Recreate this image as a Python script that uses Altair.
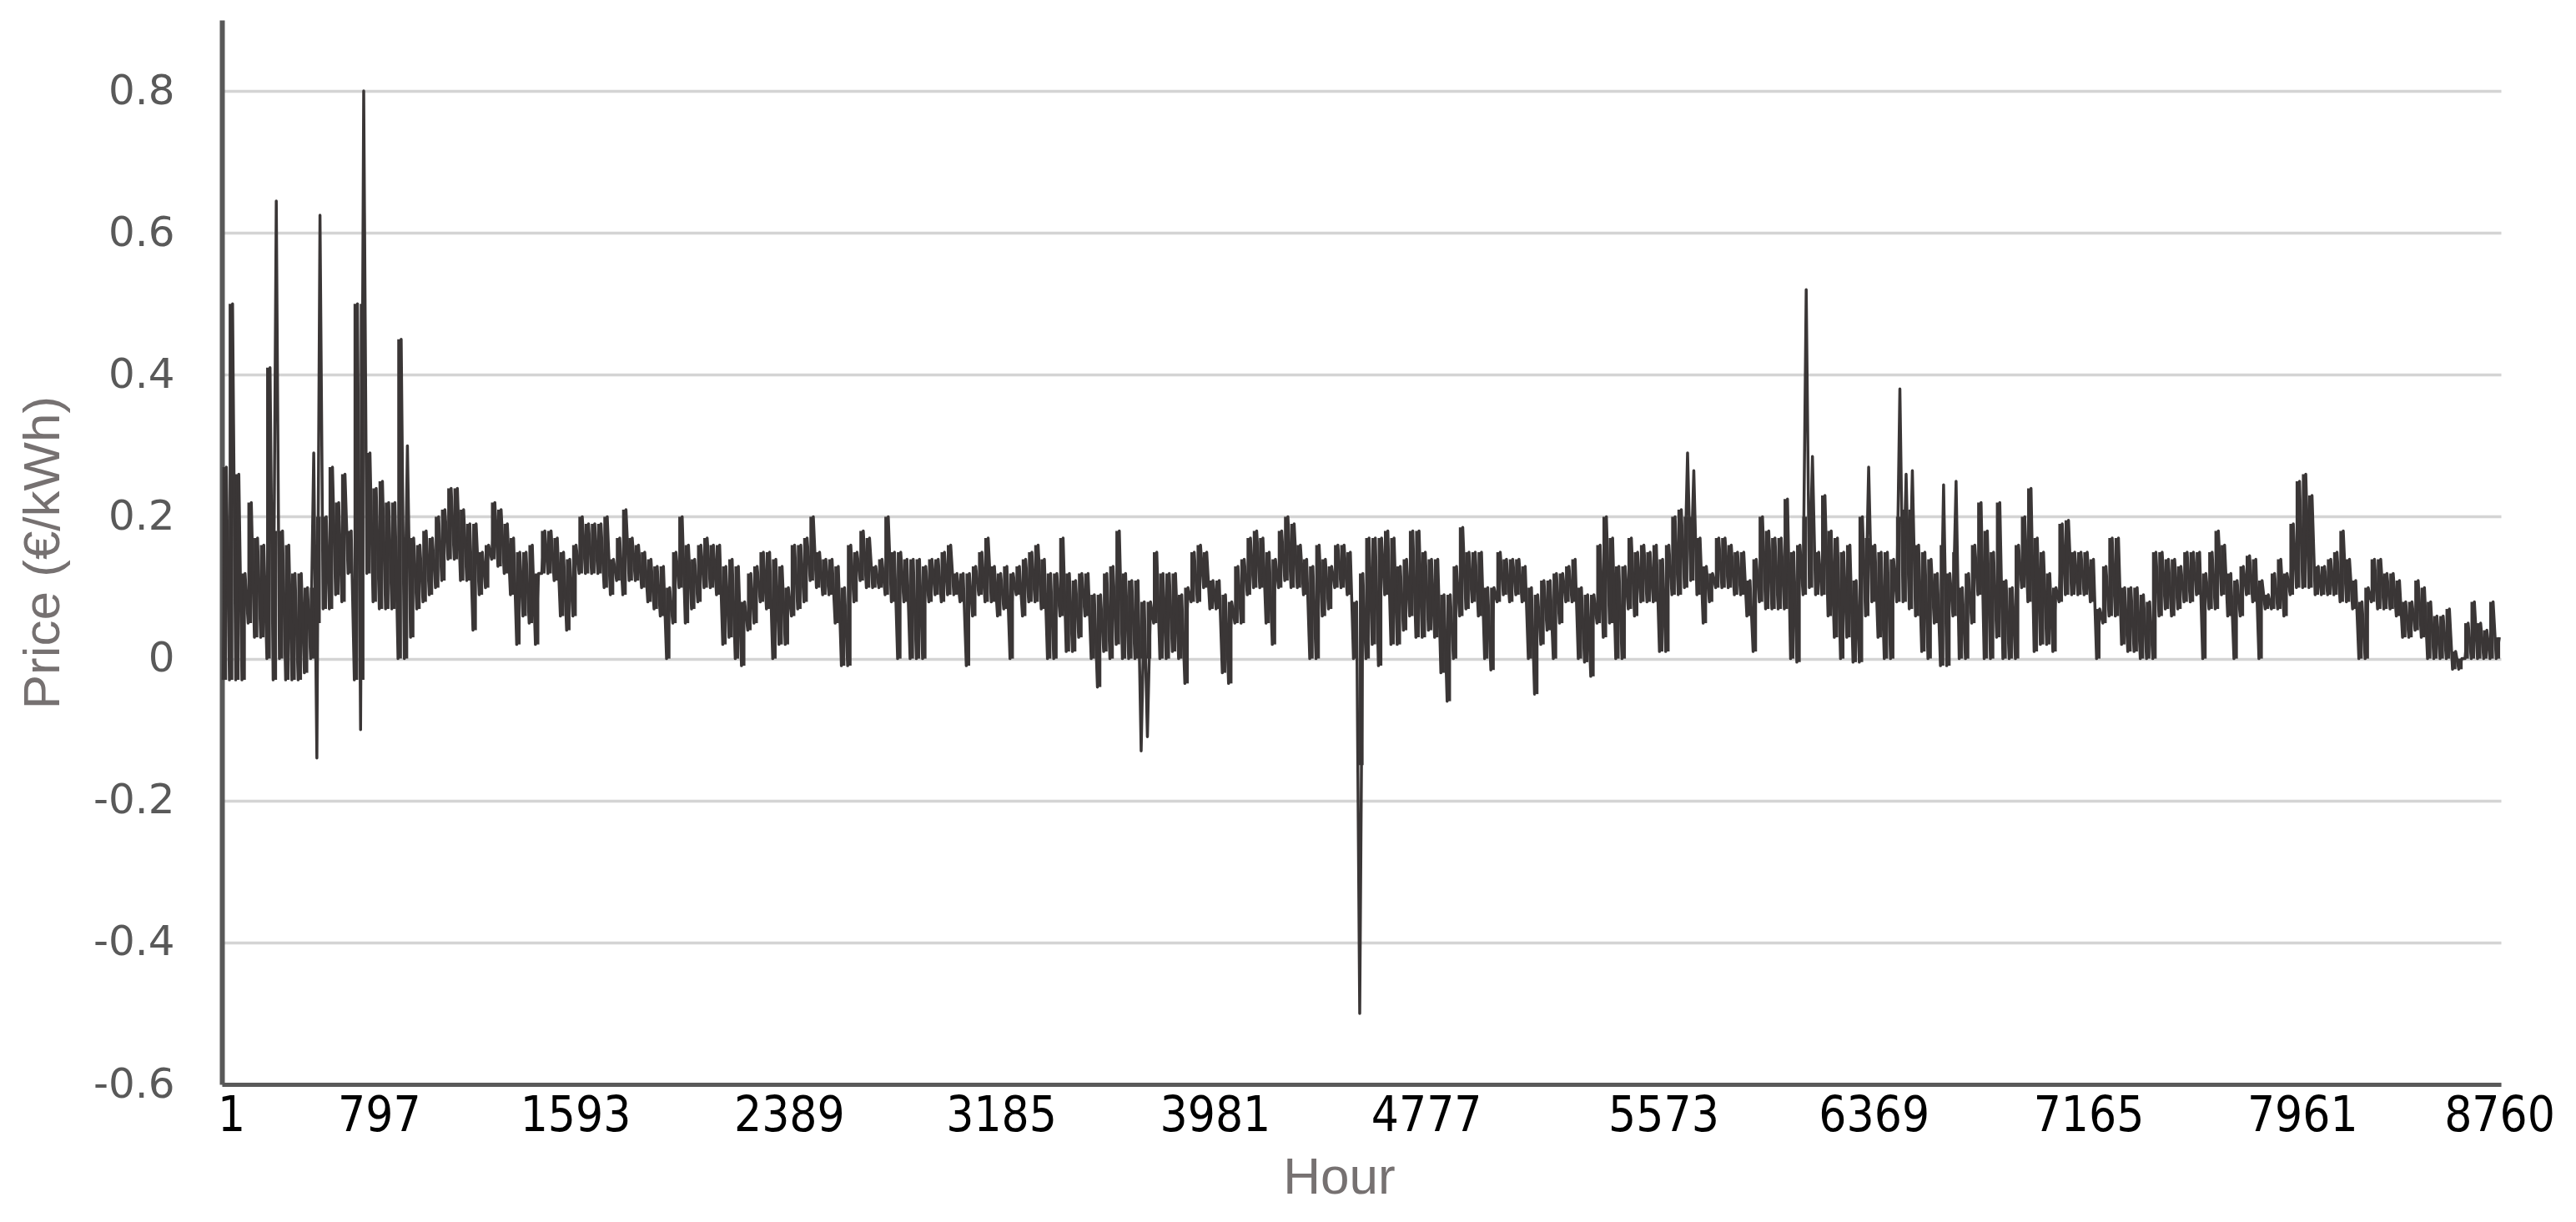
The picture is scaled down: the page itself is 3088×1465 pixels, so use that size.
import altair as alt
import pandas as pd

# Daily high / low of the hourly price (EUR/kWh), day 0..364
day_high = [
    0.27, 0.50, 0.26, 0.12, 0.22, 0.17, 0.16, 0.41, 0.645, 0.18,
    0.16, 0.12, 0.12, 0.10, 0.29, 0.625, 0.20, 0.27, 0.22, 0.26,
    0.18, 0.50, 0.80, 0.29, 0.24, 0.25, 0.22, 0.22, 0.45, 0.30,
    0.17, 0.16, 0.18, 0.17, 0.20, 0.21, 0.24, 0.24, 0.21, 0.19,
    0.19, 0.15, 0.16, 0.22, 0.21, 0.19, 0.17,
    0.15, 0.15, 0.16, 0.12, 0.18, 0.18, 0.17, 0.15, 0.14, 0.16,
    0.20, 0.19, 0.19, 0.19, 0.20, 0.14, 0.17, 0.21, 0.17, 0.16,
    0.15, 0.14, 0.13, 0.13, 0.10, 0.15, 0.20, 0.16, 0.14, 0.16,
    0.17, 0.16, 0.16, 0.13, 0.14, 0.13, 0.08, 0.12, 0.13, 0.15,
    0.15, 0.14, 0.13, 0.10, 0.16, 0.16,
    0.17, 0.20, 0.15, 0.14, 0.14, 0.13, 0.10, 0.16, 0.15, 0.18,
    0.17, 0.13, 0.14, 0.20, 0.15, 0.15, 0.14, 0.14, 0.14, 0.13,
    0.14, 0.14, 0.15, 0.16, 0.12, 0.12, 0.12, 0.13, 0.15, 0.17,
    0.13, 0.12, 0.13, 0.12, 0.13, 0.14, 0.15, 0.16, 0.14, 0.12,
    0.12, 0.17, 0.12, 0.11, 0.12, 0.12,
    0.09, 0.09, 0.12, 0.13, 0.18, 0.12, 0.11, 0.11, 0.08, 0.08,
    0.15, 0.12, 0.12, 0.12, 0.09, 0.10, 0.15, 0.16, 0.15, 0.11,
    0.11, 0.09, 0.08, 0.13, 0.14, 0.17, 0.18, 0.17, 0.15, 0.14,
    0.18, 0.20, 0.19, 0.16, 0.14, 0.13, 0.16, 0.14, 0.13, 0.16,
    0.16, 0.15, 0.08, 0.12, 0.17, 0.17,
    0.17, 0.18, 0.17, 0.13, 0.14, 0.18, 0.18, 0.15, 0.14, 0.14,
    0.09, 0.09, 0.13, 0.185, 0.15, 0.15, 0.15, 0.10, 0.10, 0.15,
    0.14, 0.14, 0.14, 0.13, 0.10, 0.09, 0.11, 0.11, 0.12, 0.12,
    0.13, 0.14, 0.10, 0.09, 0.09, 0.16, 0.20, 0.17, 0.13, 0.13,
    0.17, 0.15, 0.16, 0.15, 0.16, 0.14,
    0.16, 0.20, 0.21, 0.29, 0.265, 0.17, 0.13, 0.12, 0.17, 0.17,
    0.16, 0.15, 0.15, 0.11, 0.14, 0.20, 0.18, 0.17, 0.17, 0.225,
    0.15, 0.16, 0.52, 0.285, 0.15, 0.23, 0.18, 0.17, 0.15, 0.16,
    0.11, 0.20, 0.27, 0.16, 0.15, 0.15, 0.14, 0.38, 0.26, 0.265,
    0.16, 0.15, 0.14, 0.12, 0.245, 0.12,
    0.25, 0.10, 0.12, 0.16, 0.22, 0.18, 0.15, 0.22, 0.11, 0.10,
    0.16, 0.20, 0.24, 0.17, 0.15, 0.12, 0.10, 0.19, 0.195, 0.15,
    0.15, 0.15, 0.14, 0.07, 0.13, 0.17, 0.17, 0.10, 0.10, 0.10,
    0.09, 0.08, 0.15, 0.15, 0.14, 0.14, 0.13, 0.15, 0.15, 0.15,
    0.12, 0.15, 0.18, 0.16, 0.12, 0.11,
    0.13, 0.145, 0.14, 0.11, 0.09, 0.12, 0.14, 0.12, 0.19, 0.25,
    0.26, 0.23, 0.13, 0.13, 0.14, 0.15, 0.18, 0.14, 0.11, 0.08,
    0.10, 0.14, 0.14, 0.12, 0.12, 0.11, 0.08, 0.08, 0.11, 0.10,
    0.08, 0.06, 0.06, 0.07, 0.01, 0.00, 0.05, 0.08, 0.05, 0.04,
    0.08, 0.03,
]

day_low = [
    -0.03, -0.03, -0.03, -0.03, 0.05, 0.03, 0.03, 0.00, -0.03, 0.00,
    -0.03, -0.03, -0.03, -0.02, 0.00, -0.14, 0.07, 0.07, 0.09, 0.08,
    0.12, -0.03, -0.10, 0.12, 0.08, 0.07, 0.07, 0.07, 0.00, 0.00,
    0.03, 0.07, 0.08, 0.09, 0.10, 0.11, 0.14, 0.14, 0.11, 0.11,
    0.04, 0.09, 0.10, 0.14, 0.13, 0.12, 0.09,
    0.02, 0.06, 0.05, 0.02, 0.12, 0.12, 0.11, 0.06, 0.04, 0.06,
    0.12, 0.12, 0.12, 0.12, 0.10, 0.09, 0.11, 0.09, 0.11, 0.11,
    0.10, 0.08, 0.07, 0.06, 0.00, 0.05, 0.10, 0.05, 0.07, 0.08,
    0.10, 0.10, 0.09, 0.02, 0.03, 0.00, -0.01, 0.04, 0.05, 0.08,
    0.07, 0.00, 0.02, 0.02, 0.06, 0.07,
    0.08, 0.11, 0.10, 0.09, 0.09, 0.05, -0.01, -0.01, 0.08, 0.11,
    0.10, 0.10, 0.10, 0.09, 0.08, 0.00, 0.08, 0.00, 0.00, 0.00,
    0.08, 0.09, 0.08, 0.09, 0.09, 0.08, -0.01, 0.06, 0.09, 0.08,
    0.08, 0.06, 0.07, 0.00, 0.09, 0.06, 0.08, 0.08, 0.07, 0.00,
    0.00, 0.06, 0.01, 0.01, 0.03, 0.06,
    0.00, -0.04, 0.01, 0.00, 0.02, 0.00, 0.00, 0.00, -0.13, -0.11,
    0.05, 0.00, 0.00, 0.01, 0.00, -0.035, 0.08, 0.08, 0.10, 0.07,
    0.07, -0.02, -0.035, 0.05, 0.05, 0.09, 0.10, 0.10, 0.05, 0.02,
    0.10, 0.11, 0.10, 0.10, 0.09, 0.00, 0.00, 0.06, 0.07, 0.10,
    0.10, 0.09, 0.00, -0.50, 0.00, 0.02,
    -0.01, 0.09, 0.02, 0.02, 0.04, 0.06, 0.03, 0.03, 0.04, 0.03,
    -0.02, -0.06, 0.00, 0.06, 0.07, 0.08, 0.06, 0.00, -0.016, 0.08,
    0.09, 0.08, 0.09, 0.08, 0.00, -0.05, 0.02, 0.04, 0.00, 0.05,
    0.08, 0.08, 0.00, -0.005, -0.025, 0.05, 0.03, 0.05, 0.00, 0.00,
    0.07, 0.06, 0.08, 0.08, 0.08, 0.01,
    0.01, 0.09, 0.09, 0.10, 0.11, 0.09, 0.05, 0.08, 0.10, 0.10,
    0.10, 0.09, 0.09, 0.06, 0.01, 0.08, 0.07, 0.07, 0.07, 0.07,
    0.00, -0.005, 0.09, 0.10, 0.09, 0.09, 0.06, 0.03, 0.00, 0.03,
    -0.005, -0.005, 0.06, 0.08, 0.03, 0.00, 0.00, 0.08, 0.08, 0.07,
    0.06, 0.01, 0.00, 0.05, -0.01, -0.01,
    0.06, 0.00, 0.00, 0.05, 0.09, 0.00, 0.00, 0.03, 0.00, 0.00,
    0.00, 0.10, 0.08, 0.01, 0.02, 0.02, 0.01, 0.08, 0.09, 0.09,
    0.09, 0.09, 0.08, 0.00, 0.05, 0.06, 0.06, 0.02, 0.01, 0.01,
    0.00, 0.00, 0.00, 0.06, 0.07, 0.06, 0.07, 0.08, 0.08, 0.09,
    0.00, 0.07, 0.07, 0.09, 0.06, 0.00,
    0.06, 0.09, 0.08, 0.00, 0.07, 0.07, 0.07, 0.06, 0.09, 0.10,
    0.10, 0.10, 0.09, 0.09, 0.09, 0.09, 0.08, 0.08, 0.07, 0.00,
    0.00, 0.08, 0.07, 0.07, 0.07, 0.06, 0.03, 0.03, 0.04, 0.03,
    0.00, 0.00, 0.00, 0.00, -0.015, -0.015, 0.00, 0.00, 0.00, 0.00,
    0.00, 0.00,
]

# Days whose extreme is a single thin spike: extent of the dense part of the band (low, high)
band_core = {
    8: (-0.03, 0.18), 14: (0.00, 0.10), 15: (0.05, 0.20), 22: (-0.03, 0.50),
    29: (0.00, 0.17), 147: (0.00, 0.08), 148: (0.00, 0.08), 182: (-0.15, 0.12),
    234: (0.10, 0.20), 235: (0.11, 0.20), 253: (0.09, 0.20), 254: (0.10, 0.20),
    263: (0.06, 0.17), 268: (0.08, 0.20), 269: (0.08, 0.21), 270: (0.07, 0.21),
    275: (-0.01, 0.16), 277: (0.06, 0.15),
}

x_tick_values = [1, 797, 1593, 2389, 3185, 3981, 4777, 5573, 6369, 7165, 7961, 8760]
x_label_shift = [11, -60, -73, -65, -59, -51, -46, -10, -6, 3, 11, -2]
y_tick_values = [-0.6, -0.4, -0.2, 0, 0.2, 0.4, 0.6, 0.8]

line_rows = []
band_rows = []
n = min(len(day_high), len(day_low))
for d in range(n):
    line_rows.append({"hour": 24 * d + 6, "price": day_low[d]})
    line_rows.append({"hour": 24 * d + 18, "price": day_high[d]})
    lo, hi = band_core.get(d, (day_low[d], day_high[d]))
    band_rows.append({"start": 24 * d + 3, "end": 24 * d + 21, "lo": lo, "hi": hi})
line_df = pd.DataFrame(line_rows)
band_df = pd.DataFrame(band_rows)

label_offset = {
    "condition": [
        {"test": f"datum.value == {v}", "value": s}
        for v, s in zip(x_tick_values, x_label_shift)
    ],
    "value": 0,
}

x_axis = alt.Axis(
    values=x_tick_values,
    format="d",
    title="Hour",
    titleFont="Liberation Sans",
    titleFontSize=62,
    titleFontWeight="normal",
    titleColor="#767171",
    titlePadding=14,
    titleX=1339,
    titleAlign="center",
    labelFont="Liberation Sans Narrow, DejaVu Sans Condensed, Liberation Sans, sans-serif",
    labelFontSize=58,
    labelColor="#000000",
    labelPadding=9,
    labelFlush=False,
    labelOverlap=False,
    labelOffset=label_offset,
    ticks=False,
    grid=False,
    domainColor="#595959",
    domainWidth=5,
)

y_axis = alt.Axis(
    values=y_tick_values,
    title="Price (€/kWh)",
    titleFont="Liberation Sans",
    titleFontSize=62,
    titleFontWeight="normal",
    titleColor="#767171",
    titleAngle=270,
    titleX=-215,
    titleY=638,
    titleAlign="center",
    titleBaseline="middle",
    labelFont="DejaVu Sans",
    labelFontSize=50,
    labelColor="#595959",
    labelPadding=57,
    labelExpr="datum.value == 0 ? '0' : replace(format(datum.value, '.1f'), '\u2212', '-')",
    ticks=False,
    grid=True,
    gridColor="#d4d4d4",
    gridWidth=3.5,
    domainColor="#595959",
    domainWidth=6,
)

x_scale = alt.Scale(domain=[1, 8760], nice=False, zero=False)
y_scale = alt.Scale(domain=[-0.6, 0.9], nice=False, zero=False)
line_color = "#3a3636"

band = (
    alt.Chart(band_df)
    .mark_rect(color=line_color)
    .encode(
        x=alt.X("start:Q", scale=x_scale, axis=x_axis),
        x2="end:Q",
        y=alt.Y("lo:Q", scale=y_scale, axis=y_axis),
        y2="hi:Q",
    )
)

line = (
    alt.Chart(line_df)
    .mark_line(color=line_color, strokeWidth=3.5, strokeJoin="round")
    .encode(
        x=alt.X("hour:Q", scale=x_scale, axis=x_axis),
        y=alt.Y("price:Q", scale=y_scale, axis=y_axis),
    )
)

chart = (
    alt.layer(band, line)
    .properties(
        width=2732,
        height=1276,
        autosize=alt.AutoSizeParams(type="none"),
        padding={"left": 258, "top": 16, "right": 80, "bottom": 150},
        background="white",
    )
    .configure_view(stroke=None)
)

chart.save("out.html", embed_options={"renderer": "svg", "actions": False})
